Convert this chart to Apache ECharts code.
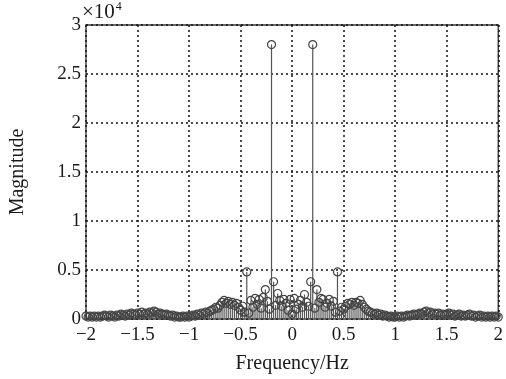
<!DOCTYPE html>
<html>
<head>
<meta charset="utf-8">
<script src="https://cdn.jsdelivr.net/npm/echarts@6/dist/echarts.min.js"></script>
<style>
html,body{margin:0;padding:0;background:#fff;}
#chart{width:506px;height:379px;}
</style>
</head>
<body>
<div id="chart"></div>
<script>
// Frequency bins (Hz)
const freq = [
-2.00,-1.98,-1.96,-1.94,-1.92,-1.90,-1.88,-1.86,-1.84,-1.82,
-1.80,-1.78,-1.76,-1.74,-1.72,-1.70,-1.68,-1.66,-1.64,-1.62,
-1.60,-1.58,-1.56,-1.54,-1.52,-1.50,-1.48,-1.46,-1.44,-1.42,
-1.40,-1.38,-1.36,-1.34,-1.32,-1.30,-1.28,-1.26,-1.24,-1.22,
-1.20,-1.18,-1.16,-1.14,-1.12,-1.10,-1.08,-1.06,-1.04,-1.02,
-1.00,-0.98,-0.96,-0.94,-0.92,-0.90,-0.88,-0.86,-0.84,-0.82,
-0.80,-0.78,-0.76,-0.74,-0.72,-0.70,-0.68,-0.66,-0.64,-0.62,
-0.60,-0.58,-0.56,-0.54,-0.52,-0.50,-0.48,-0.46,-0.44,-0.42,
-0.40,-0.38,-0.36,-0.34,-0.32,-0.30,-0.28,-0.26,-0.24,-0.22,
-0.20,-0.18,-0.16,-0.14,-0.12,-0.10,-0.08,-0.06,-0.04,-0.02,
0.00,
0.02,0.04,0.06,0.08,0.10,0.12,0.14,0.16,0.18,0.20,
0.22,0.24,0.26,0.28,0.30,0.32,0.34,0.36,0.38,0.40,
0.42,0.44,0.46,0.48,0.50,0.52,0.54,0.56,0.58,0.60,
0.62,0.64,0.66,0.68,0.70,0.72,0.74,0.76,0.78,0.80,
0.82,0.84,0.86,0.88,0.90,0.92,0.94,0.96,0.98,1.00,
1.02,1.04,1.06,1.08,1.10,1.12,1.14,1.16,1.18,1.20,
1.22,1.24,1.26,1.28,1.30,1.32,1.34,1.36,1.38,1.40,
1.42,1.44,1.46,1.48,1.50,1.52,1.54,1.56,1.58,1.60,
1.62,1.64,1.66,1.68,1.70,1.72,1.74,1.76,1.78,1.80,
1.82,1.84,1.86,1.88,1.90,1.92,1.94,1.96,1.98,2.00
];
// Magnitude (x 10^4)
const magnitude = [
0.03,0.02,0.03,0.02,0.03,0.02,0.03,0.02,0.03,0.04,
0.03,0.02,0.04,0.03,0.02,0.04,0.03,0.05,0.04,0.03,
0.05,0.04,0.06,0.05,0.04,0.06,0.05,0.07,0.05,0.06,
0.05,0.07,0.06,0.08,0.07,0.05,0.06,0.05,0.04,0.05,
0.04,0.03,0.04,0.02,0.03,0.02,0.02,0.03,0.02,0.03,
0.02,0.03,0.04,0.03,0.05,0.04,0.06,0.05,0.07,0.06,
0.08,0.09,0.10,0.12,0.11,0.14,0.17,0.19,0.16,0.18,
0.15,0.17,0.14,0.16,0.12,0.09,0.13,0.07,0.48,0.06,
0.19,0.12,0.21,0.15,0.20,0.11,0.22,0.30,0.18,0.10,
2.80,0.38,0.14,0.26,0.19,0.13,0.20,0.16,0.09,0.20,
0.05,
0.21,0.10,0.15,0.19,0.12,0.25,0.17,0.13,0.38,2.80,
0.11,0.30,0.17,0.21,0.20,0.12,0.16,0.20,0.13,0.18,
0.07,0.48,0.08,0.12,0.10,0.13,0.16,0.15,0.17,0.14,
0.17,0.16,0.19,0.15,0.12,0.10,0.08,0.07,0.06,0.05,
0.06,0.04,0.05,0.03,0.04,0.03,0.02,0.03,0.02,0.02,
0.03,0.02,0.03,0.02,0.03,0.04,0.03,0.04,0.05,0.04,
0.05,0.06,0.05,0.07,0.08,0.06,0.07,0.05,0.06,0.05,
0.06,0.04,0.05,0.04,0.05,0.06,0.04,0.05,0.03,0.04,
0.05,0.03,0.04,0.03,0.04,0.05,0.03,0.04,0.02,0.03,
0.04,0.02,0.03,0.02,0.03,0.02,0.03,0.02,0.03,0.02
];
const xTicks = [-2,-1.5,-1,-0.5,0,0.5,1,1.5,2];
const yTicks = [0,0.5,1,1.5,2,2.5,3];
const xLabel = 'Frequency/Hz';
const yLabel = 'Magnitude';

const pts = freq.map((f,i)=>[f, magnitude[i]]);
const FONT = '"Liberation Serif","DejaVu Serif",serif';
const fmt = v => String(v).replace('-', '\u2212');

const chart = echarts.init(document.getElementById('chart'), null, {renderer:'canvas'});
chart.setOption({
  animation:false,
  backgroundColor:'#fff',
  grid:{left:82,right:7,top:25,bottom:56,show:true,borderColor:'#3a3a3a',borderWidth:1.4,backgroundColor:'transparent'},
  xAxis:{
    type:'value', min:-2, max:2, interval:0.5,
    name:xLabel, nameLocation:'middle', nameGap:35,
    nameTextStyle:{fontFamily:FONT,fontSize:20,color:'#1a1a1a'},
    axisLine:{show:false}, axisTick:{show:false},
    axisLabel:{fontFamily:FONT,fontSize:19,color:'#1a1a1a',margin:7,formatter:v=>fmt(v)},
    splitLine:{show:true,lineStyle:{color:'#111',type:[2,3],width:1.5}}
  },
  yAxis:{
    type:'value', min:0, max:3, interval:0.5,
    name:yLabel, nameLocation:'middle', nameGap:58, nameRotate:90,
    nameTextStyle:{fontFamily:FONT,fontSize:20,color:'#1a1a1a'},
    axisLine:{show:false}, axisTick:{show:false},
    axisLabel:{fontFamily:FONT,fontSize:19,color:'#1a1a1a',margin:5,formatter:v=>fmt(v)},
    splitLine:{show:true,lineStyle:{color:'#111',type:[2,3],width:1.5}}
  },
  graphic:[{
    type:'text', left:82, top:1,
    style:{
      text:'{a|\u00d710}{b|4}',
      rich:{
        a:{fontFamily:FONT,fontSize:21,fill:'#1a1a1a'},
        b:{fontFamily:FONT,fontSize:12,fill:'#1a1a1a',verticalAlign:'top',padding:[0,0,10,1]}
      }
    }
  }],
  series:[
    {
      type:'custom',
      data:pts,
      renderItem:function(params, api){
        const x = api.value(0), y = api.value(1);
        const p0 = api.coord([x,0]);
        const p1 = api.coord([x,y]);
        return {type:'line', shape:{x1:p0[0],y1:p0[1],x2:p1[0],y2:p1[1]},
          style:{stroke:'#555',lineWidth:1.2}};
      },
      z:2
    },
    {
      type:'scatter',
      data:pts,
      symbol:'circle',
      symbolSize:8,
      itemStyle:{color:'rgba(255,255,255,0)',borderColor:'#444',borderWidth:1.2,opacity:1},
      z:3
    }
  ]
});
</script>
</body>
</html>
